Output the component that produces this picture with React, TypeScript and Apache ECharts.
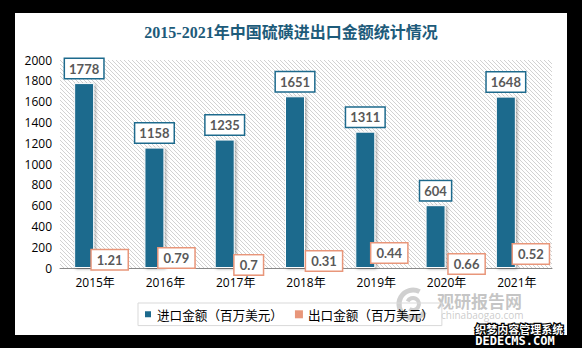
import React, { useEffect, useRef } from "react";
import * as echarts from "echarts";

const years = ["2015年", "2016年", "2017年", "2018年", "2019年", "2020年", "2021年"];
const importValues = [1778, 1158, 1235, 1651, 1311, 604, 1648];
const exportValues = [1.21, 0.79, 0.7, 0.31, 0.44, 0.66, 0.52];
const importName = "进口金额（百万美元）";
const exportName = "出口金额（百万美元）";
const titleText = "2015-2021年中国硫磺进出口金额统计情况";

function makeHatch(): HTMLCanvasElement {
  const c = document.createElement("canvas");
  c.width = 4;
  c.height = 4;
  const ctx = c.getContext("2d")!;
  ctx.fillStyle = "#ffffff";
  ctx.fillRect(0, 0, 4, 4);
  ctx.fillStyle = "#d2d2d2";
  for (let i = 0; i < 4; i++) ctx.fillRect(i, i, 1, 1);
  return c;
}

export default function App() {
  const ref = useRef<HTMLDivElement>(null);
  useEffect(() => {
    document.body.style.margin = "0";
    const chart = echarts.init(ref.current!, null, { renderer: "svg" });
    const exportOffsets: [number, number][] = [
      [3.5, 1.5],
      [0, -0.5],
      [2, 6.5],
      [7, 2.5],
      [2, -5.5],
      [9, 5.5],
      [3, -4.5],
    ];
    const labelFont = "Lato, 'Open Sans', sans-serif";
    chart.setOption({
      animation: false,
      backgroundColor: "transparent",
      title: {
        text: titleText,
        left: "center",
        top: 19,
        textStyle: {
          fontSize: 16,
          fontWeight: "bold",
          color: "#1d5b7a",
          fontFamily: "'Liberation Serif', 'Noto Sans CJK SC', serif",
        },
      },
      grid: {
        left: 60,
        right: 30,
        top: 60,
        bottom: 80,
        show: true,
        borderWidth: 0,
        backgroundColor: { image: makeHatch(), repeat: "repeat" },
      },
      legend: {
        left: 138,
        top: 303,
        itemWidth: 8,
        itemHeight: 8,
        itemGap: 12,
        icon: "rect",
        borderColor: "#d9d9d9",
        borderWidth: 1,
        padding: [5, 8, 5, 5],
        textStyle: {
          fontSize: 12.6,
          color: "#000",
          fontFamily: "'Noto Sans CJK SC', sans-serif",
        },
        data: [importName, exportName],
      },
      xAxis: {
        type: "category",
        data: years,
        axisLine: { lineStyle: { color: "#898989", width: 1 } },
        axisTick: { show: false },
        axisLabel: {
          margin: 8,
          fontSize: 12,
          color: "#000",
          fontFamily: "'Open Sans', 'Noto Sans CJK SC', sans-serif",
        },
      },
      yAxis: {
        type: "value",
        min: 0,
        max: 2000,
        interval: 200,
        axisLine: { show: false },
        axisTick: { show: false },
        splitLine: { show: false },
        axisLabel: {
          margin: 8,
          fontSize: 12,
          color: "#000",
          fontFamily: "'Open Sans', sans-serif",
          formatter: (v: number) => String(v),
        },
      },
      series: [
        {
          name: importName,
          type: "bar",
          barWidth: 20,
          barGap: "10%",
          data: importValues,
          itemStyle: {
            color: "#1d6a8d",
            borderColor: "#ffffff",
            borderWidth: 1,
            shadowColor: "rgba(0,0,0,0.35)",
            shadowBlur: 3,
            shadowOffsetX: 1.5,
            shadowOffsetY: 1,
          },
          label: {
            show: true,
            position: "top",
            distance: 5,
            color: "#595959",
            fontWeight: "bold",
            fontSize: 13,
            fontFamily: labelFont,
            backgroundColor: "#fff",
            borderColor: "#1d6a8d",
            borderWidth: 1.5,
            padding: [3, 4, 3, 4],
          },
        },
        {
          name: exportName,
          type: "bar",
          barWidth: 20,
          data: exportValues.map((v, i) => ({
            value: v,
            label: { offset: exportOffsets[i] },
          })),
          itemStyle: { color: "#e8967a" },
          label: {
            show: true,
            position: "top",
            distance: 0,
            color: "#595959",
            fontWeight: "bold",
            fontSize: 13,
            fontFamily: labelFont,
            backgroundColor: "#fff",
            borderColor: "#e8967a",
            borderWidth: 1.5,
            padding: [3, 5, 3, 5],
          },
        },
      ],
      graphic: [
        {
          type: "arc",
          shape: { cx: 413, cy: 304, r: 14, startAngle: 0.6, endAngle: 5.2 },
          style: { stroke: "rgba(150,150,150,0.45)", lineWidth: 5, fill: "none" },
          silent: true,
        },
        {
          type: "arc",
          shape: { cx: 413, cy: 304, r: 6, startAngle: 3.6, endAngle: 8.5 },
          style: { stroke: "rgba(150,150,150,0.45)", lineWidth: 4, fill: "none" },
          silent: true,
        },
        {
          type: "text",
          left: 437,
          top: 292,
          silent: true,
          style: {
            text: "观研报告网",
            fontSize: 17,
            lineHeight: 17,
            fontWeight: "bold",
            fontFamily: "'Noto Sans CJK SC', sans-serif",
            fill: "rgba(140,140,140,0.5)",
          },
        },
        {
          type: "text",
          left: 441,
          top: 310,
          silent: true,
          style: {
            text: "chinabaogao.com",
            fontSize: 10,
            lineHeight: 10,
            fontFamily: "'Open Sans', sans-serif",
            fill: "rgba(150,150,150,0.5)",
          },
        },
        {
          type: "text",
          left: 474,
          top: 322,
          silent: true,
          style: {
            text: "织梦内容管理系统",
            fontSize: 11,
            lineHeight: 11,
            fontWeight: "bold",
            fontFamily: "'Noto Sans CJK SC', sans-serif",
            fill: "#ffffff",
            stroke: "#000000",
            lineWidth: 2.5,
          },
        },
        {
          type: "text",
          left: 474,
          top: 334,
          silent: true,
          style: {
            text: "DEDECMS.COM",
            fontSize: 12,
            lineHeight: 12,
            fontWeight: "bold",
            fontFamily: "'DejaVu Sans Mono', monospace",
            fill: "#ffffff",
            stroke: "#000000",
            lineWidth: 2.5,
          },
        },
      ],
    });
    return () => chart.dispose();
  }, []);
  return (
    <div style={{ position: "relative", width: 582, height: 348, background: "#000", overflow: "hidden" }}>
      <div style={{ position: "absolute", left: 15, top: 13, width: 552, height: 322, background: "#fff" }} />
      <div ref={ref} style={{ position: "absolute", left: 0, top: 0, width: 582, height: 348 }} />
    </div>
  );
}
